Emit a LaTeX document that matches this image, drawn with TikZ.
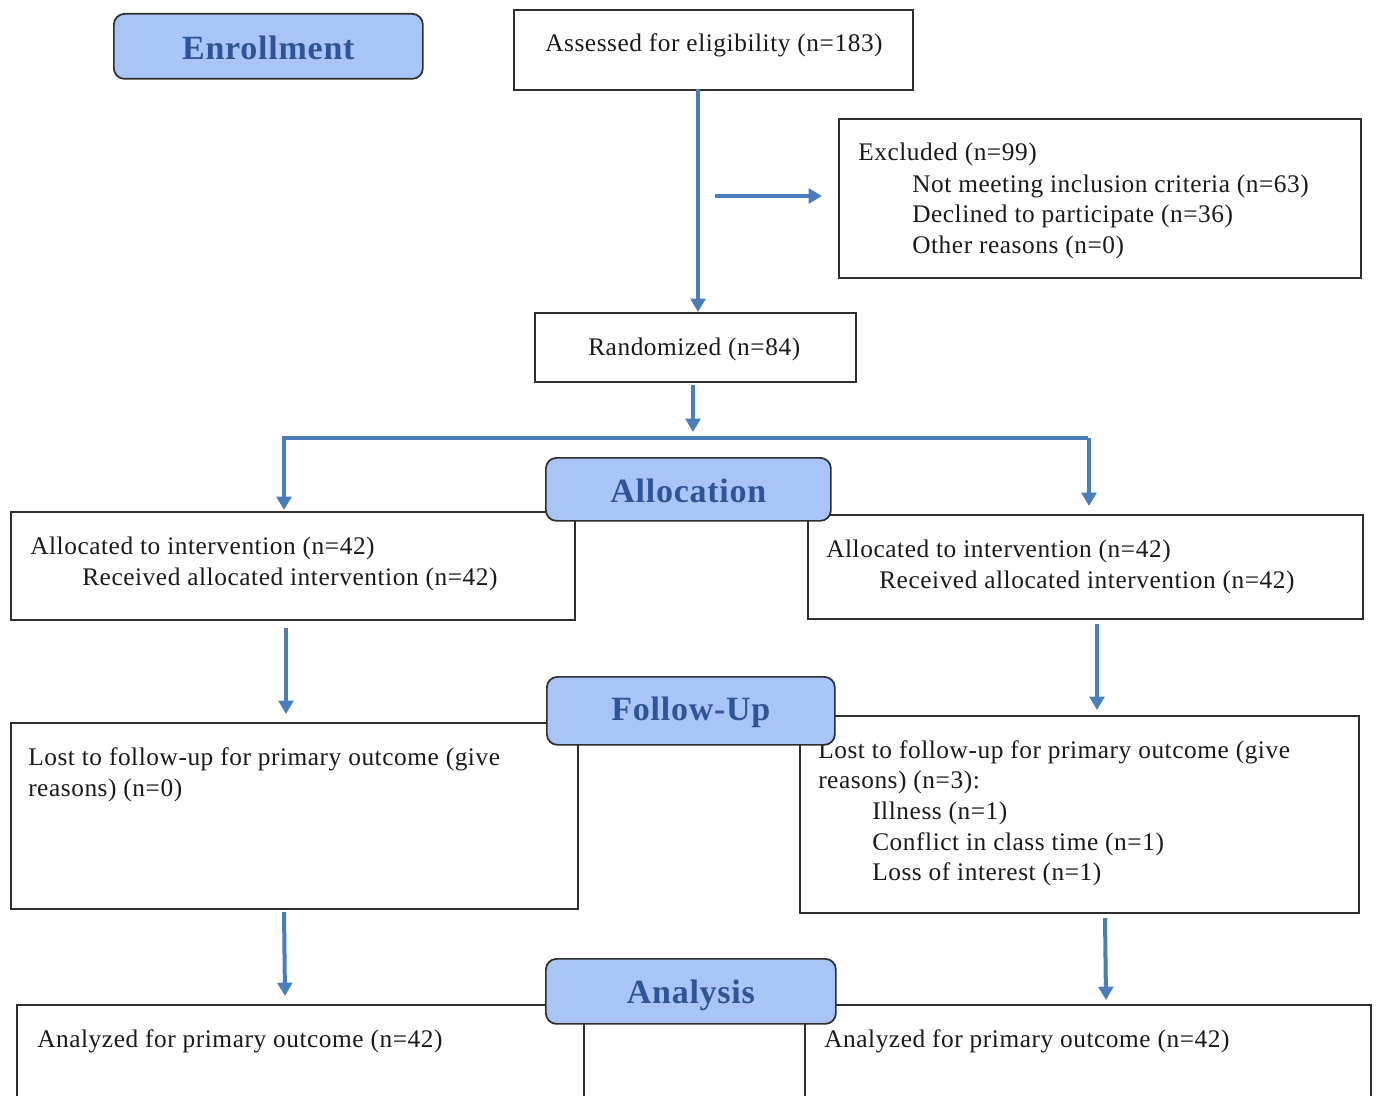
\documentclass[tikz,border=0pt]{standalone}
\usepackage{fontspec}
\setmainfont{Liberation Serif}[LetterSpace=2.2]
\usetikzlibrary{arrows.meta}
\definecolor{hdrfill}{HTML}{A9C5F7}
\definecolor{hdrtext}{HTML}{2F5597}
\definecolor{arrowblue}{HTML}{4A7EBB}
\definecolor{boxline}{HTML}{2E2E2E}
\definecolor{bodytext}{HTML}{1A1A1A}
\begin{document}
\begin{tikzpicture}[x=0.75pt,y=-0.75pt,
 box/.style={draw=boxline, line width=1.3pt, fill=white, inner sep=0pt, anchor=north west},
 hdr/.style={draw=boxline, line width=1.3pt, fill=hdrfill, rounded corners=8pt, inner sep=0pt, anchor=north west},
 hdrlabel/.style={inner sep=0pt, font=\fontsize{25.5}{30}\selectfont\bfseries, text=hdrtext},
 txt/.style={anchor=base west, inner sep=0pt, font=\fontsize{19}{23}\selectfont, text=bodytext},
 flow/.style={draw=arrowblue, line width=3pt, -{Triangle[length=10pt,width=11pt]}},
 bar/.style={draw=arrowblue, line width=3pt}
]
\useasboundingbox (0,0) rectangle (1376,1095);
\fill[white] (0,0) rectangle (1376,1095);

% ---- content boxes ----
\node[box, minimum width={399*0.75}, minimum height={80*0.75}] (assess) at (513,9) {};
\node[txt] (assessT) at (545,52) {Assessed for eligibility (n=183)};

\node[box, minimum width={522*0.75}, minimum height={159*0.75}] (excl) at (838,118) {};
\node[txt] (exclT1) at (858,161) {Excluded (n=99)};
\node[txt] (exclT2) at (912,192) {Not meeting inclusion criteria (n=63)};
\node[txt] (exclT3) at (912,222) {Declined to participate (n=36)};
\node[txt] (exclT4) at (912,253) {Other reasons (n=0)};

\node[box, minimum width={321*0.75}, minimum height={69*0.75}] (rand) at (534,312) {};
\node[txt] (randT) at (588,355) {Randomized (n=84)};

\node[box, minimum width={564*0.75}, minimum height={108*0.75}] (allocL) at (10,511) {};
\node[txt] (allocLT1) at (30,554) {Allocated to intervention (n=42)};
\node[txt] (allocLT2) at (82,585) {Received allocated intervention (n=42)};

\node[box, minimum width={555*0.75}, minimum height={104*0.75}] (allocR) at (807,514) {};
\node[txt] (allocRT1) at (826,557) {Allocated to intervention (n=42)};
\node[txt] (allocRT2) at (879,588) {Received allocated intervention (n=42)};

\node[box, minimum width={567*0.75}, minimum height={186*0.75}] (lostL) at (10,722) {};
\node[txt] (lostLT1) at (28,765) {Lost to follow-up for primary outcome (give};
\node[txt] (lostLT2) at (28,796) {reasons) (n=0)};

\node[box, minimum width={559*0.75}, minimum height={197*0.75}] (lostR) at (799,715) {};
\node[txt] (lostRT1) at (818,758) {Lost to follow-up for primary outcome (give};
\node[txt] (lostRT2) at (818,788) {reasons) (n=3):};
\node[txt] (lostRT3) at (872,819) {Illness (n=1)};
\node[txt] (lostRT4) at (872,850) {Conflict in class time (n=1)};
\node[txt] (lostRT5) at (872,880) {Loss of interest (n=1)};

\node[box, minimum width={567*0.75}, minimum height={110*0.75}] (anaL) at (16,1004) {};
\node[txt] (anaLT) at (37,1047) {Analyzed for primary outcome (n=42)};

\node[box, minimum width={566*0.75}, minimum height={110*0.75}] (anaR) at (804,1004) {};
\node[txt] (anaRT) at (824,1047) {Analyzed for primary outcome (n=42)};

% ---- stage headers ----
\node[hdr, minimum width={309*0.75}, minimum height={65*0.75}] (enroll) at (113,13) {};
\node[hdrlabel] (enrollT) at ([yshift=-1]enroll.center) {Enrollment};
\node[hdr, minimum width={285*0.75}, minimum height={63*0.75}] (alloc) at (545,457) {};
\node[hdrlabel] (allocT) at ([yshift=-1]alloc.center) {Allocation};
\node[hdr, minimum width={288*0.75}, minimum height={68*0.75}] (follow) at (546,676) {};
\node[hdrlabel] (followT) at ([yshift=-1]follow.center) {Follow-Up};
\node[hdr, minimum width={290*0.75}, minimum height={65*0.75}] (analysis) at (545,958) {};
\node[hdrlabel] (analysisT) at ([yshift=-3]analysis.center) {Analysis};

% ---- connector end points ----
\coordinate (p1s) at (698,89);   \coordinate (p1e) at (698,312);
\coordinate (p2s) at (715,196);  \coordinate (p2e) at (822,196);
\coordinate (p3s) at (693,385);  \coordinate (p3e) at (693,432);
\coordinate (barL) at (282,438); \coordinate (barR) at (1088,438);
\coordinate (p4e) at (284,510);  \coordinate (p5e) at (1089,506);
\coordinate (p6s) at (286,628);  \coordinate (p6e) at (286,714);
\coordinate (p7s) at (1097,624); \coordinate (p7e) at (1097,710);
\coordinate (p8s) at (284,912);  \coordinate (p8e) at (285,996);
\coordinate (p9s) at (1105,918); \coordinate (p9e) at (1106,1000);

% ---- connectors ----
\draw[flow] (p1s) -- (p1e);
\draw[flow] (p2s) -- (p2e);
\draw[flow] (p3s) -- (p3e);
\draw[bar] (barL) -- (barR);
\draw[flow] (barL -| p4e) -- (p4e);
\draw[flow] (barR -| p5e) -- (p5e);
\draw[flow] (p6s) -- (p6e);
\draw[flow] (p7s) -- (p7e);
\draw[flow] (p8s) -- (p8e);
\draw[flow] (p9s) -- (p9e);
\end{tikzpicture}
\end{document}
